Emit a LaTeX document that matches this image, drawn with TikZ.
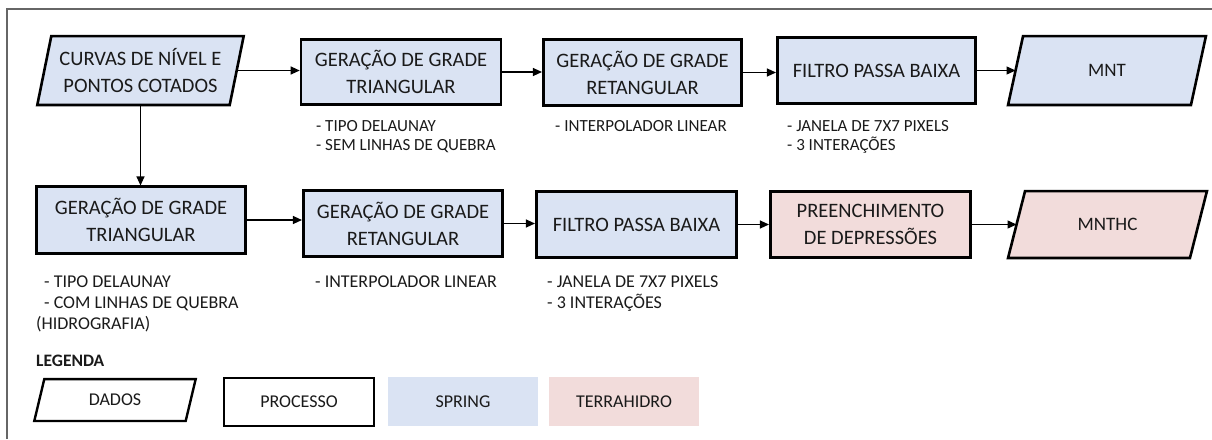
\documentclass[tikz,border=0pt]{standalone}
\usepackage{fontspec}
\setmainfont{Carlito}
\usetikzlibrary{arrows.meta,calc,backgrounds}
\definecolor{sp}{HTML}{DAE3F3}
\definecolor{th}{HTML}{F2DCDB}
\definecolor{txt}{HTML}{1A1A1A}
\newcommand\fsz[2]{\fontsize{#1}{#2}\selectfont}
\newcommand\parapath[3]{% node, slant, style
  \path[#3] ($(#1.north west)+(#2,0)$) -- (#1.north east) -- ($(#1.south east)-(#2,0)$) -- (#1.south west) -- cycle;}
\begin{document}
\begin{tikzpicture}[x=1pt,y=-1pt,
  proc/.style={draw=black, line width=2.6pt, align=center, inner sep=0pt, font=\fsz{20.5}{27}, text=txt},
  datanode/.style={align=center, inner sep=0pt, font=\fsz{20.5}{27}, text=txt},
  datashape/.style={draw=black, line width=2.6pt, line join=miter},
  note/.style={anchor=north west, align=left, inner sep=0pt, text=txt},
  legbox/.style={inner sep=0pt, font=\fsz{18}{22}, text=txt, minimum width=150pt, minimum height=49pt},
  arr/.style={line width=1.2pt, -{Triangle[length=9pt,width=8pt]}},
  frame/.style={draw=black!60, line width=1.5pt}]
\useasboundingbox (0,0) rectangle (1212,439);
\draw[frame] (7,439) -- (7,9) -- (1212,9);

% top row
\node[datanode, minimum width=206pt, minimum height=68.5pt] (d1) at (140.5,70.5) {CURVAS DE NÍVEL E\\PONTOS COTADOS};
\node[proc, fill=sp, minimum width=200pt, minimum height=65.5pt] (b1) at (401,72) {GERAÇÃO DE GRADE\\TRIANGULAR};
\node[proc, fill=sp, minimum width=198.5pt, minimum height=66.5pt] (b2) at (642.5,72.5) {GERAÇÃO DE GRADE\\RETANGULAR};
\node[proc, fill=sp, minimum width=198.5pt, minimum height=66.5pt] (b3) at (876.5,70.5) {FILTRO PASSA BAIXA};
\node[datanode, font=\fsz{19}{24}, minimum width=197.5pt, minimum height=68.5pt] (mnt) at (1107,70.5) {MNT};

% bottom row
\node[proc, fill=sp, minimum width=209.5pt, minimum height=66.5pt] (b4) at (141,220) {GERAÇÃO DE GRADE\\TRIANGULAR};
\node[proc, fill=sp, minimum width=199.5pt, minimum height=66pt] (b5) at (403,223.5) {GERAÇÃO DE GRADE\\RETANGULAR};
\node[proc, fill=sp, minimum width=200.5pt, minimum height=66.5pt] (b6) at (636.5,224.5) {FILTRO PASSA BAIXA};
\node[proc, fill=th, minimum width=200.5pt, minimum height=66.5pt] (b7) at (870.5,224.5) {PREENCHIMENTO\\DE DEPRESSÕES};
\node[datanode, font=\fsz{19}{24}, minimum width=198.5pt, minimum height=66.5pt] (mnthc) at (1107.5,224.5) {MNTHC};

% legend
\node[anchor=base west, inner sep=0pt, font=\bfseries\fsz{17.5}{21}, text=txt] (leg) at (36,366) {LEGENDA};
\node[legbox, minimum width=161pt, minimum height=41.5pt] (ldados) at (115,400) {DADOS};
\node[legbox, draw=black, line width=2.4pt, minimum width=150pt, minimum height=48pt] (lproc) at (299,402) {PROCESSO};
\node[legbox, fill=sp] (lspring) at (463,401.5) {SPRING};
\node[legbox, fill=th] (lterra) at (624,401.5) {TERRAHIDRO};

\begin{scope}[on background layer]
  \parapath{d1}{14}{datashape, fill=sp}
  \parapath{mnt}{15}{datashape, fill=sp}
  \parapath{mnthc}{17}{datashape, fill=th}
  \parapath{ldados}{10}{draw=black, line width=2.4pt}
\end{scope}

% notes
\node[note, font=\fsz{17}{19}] (n1) at (316,120) {- TIPO DELAUNAY\\- SEM LINHAS DE QUEBRA};
\node[note, font=\fsz{17}{19}] (n2) at (555,120) {- INTERPOLADOR LINEAR};
\node[note, font=\fsz{17}{19}] (n3) at (787,120) {- JANELA DE 7X7 PIXELS\\- 3 INTERAÇÕES};
\node[note, font=\fsz{18}{21}] (n4) at (44,276) {- TIPO DELAUNAY\\- COM LINHAS DE QUEBRA\\\hspace*{-8pt}(HIDROGRAFIA)};
\node[note, font=\fsz{18}{21}] (n5) at (315,276) {- INTERPOLADOR LINEAR};
\node[note, font=\fsz{18}{21}] (n6) at (547,276) {- JANELA DE 7X7 PIXELS\\- 3 INTERAÇÕES};

% connectors
\draw[arr] ($(d1.east)-(7,0)$) -- (b1.west |- d1.east);
\draw[arr] (b1.east) -- (b1.east -| b2.west);
\draw[arr] (b2.east) -- (b2.east -| b3.west);
\draw[arr] (b3.east) -- ($(b3.east -| mnt.west)+(7.5,0)$);
\draw[arr] (d1.south) -- (d1.south |- b4.north);
\draw[arr] (b4.east) -- (b4.east -| b5.west);
\draw[arr] (b5.east) -- (b5.east -| b6.west);
\draw[arr] (b6.east) -- (b6.east -| b7.west);
\draw[arr] (b7.east) -- ($(b7.east -| mnthc.west)+(8.5,0)$);
\end{tikzpicture}
\end{document}
